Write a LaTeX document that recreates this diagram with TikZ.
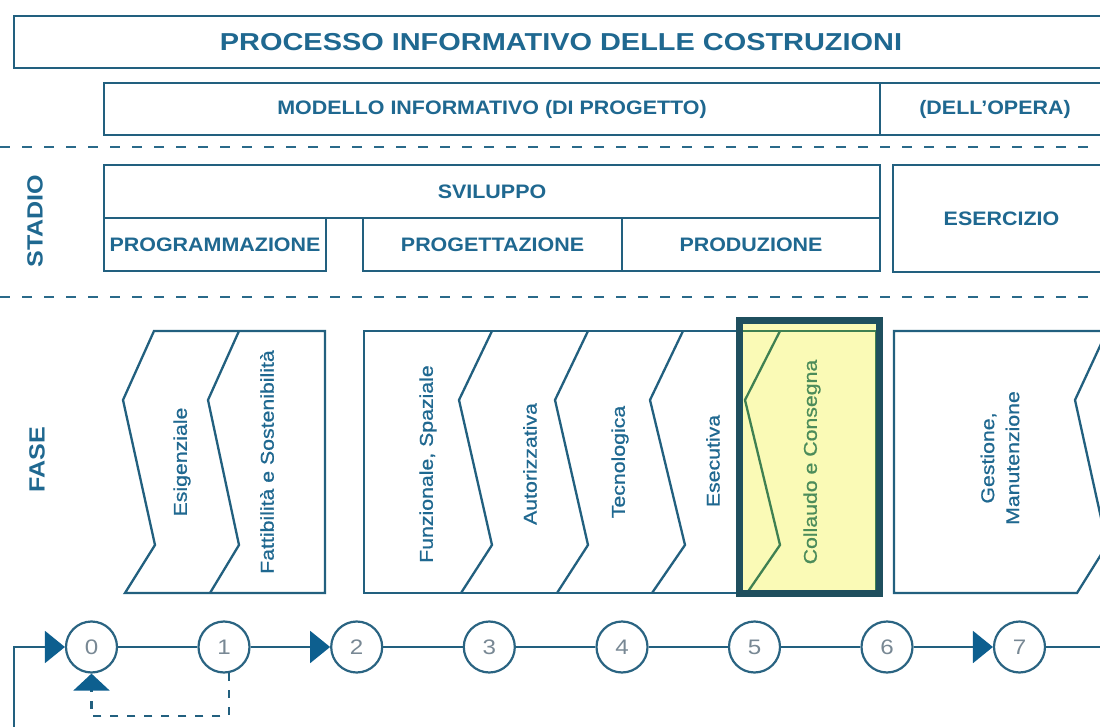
\documentclass[tikz,border=0pt]{standalone}
\usepackage{fontspec}
\setmainfont{Liberation Sans}
\newfontfamily\hdfont[FakeStretch=1.1]{Liberation Sans}
\newfontfamily\ttlfont[FakeStretch=1.18]{Liberation Sans}
\newfontfamily\sidefont[FakeStretch=1.14]{Liberation Sans}
\newfontfamily\phfont[FakeStretch=1.15,FakeBold=0.8]{Liberation Sans}
\newfontfamily\nmfont[FakeStretch=1.15]{Liberation Sans}
\usetikzlibrary{arrows.meta}
\definecolor{lineblue}{HTML}{22607F}
\definecolor{textblue}{HTML}{1F6890}
\definecolor{dashblue}{HTML}{2A6A8A}
\definecolor{arrowblue}{HTML}{0D5F8F}
\definecolor{framedark}{HTML}{1F4F5E}
\definecolor{hlyellow}{HTML}{FAFAB6}
\definecolor{hlgreen}{HTML}{3F8052}
\definecolor{hltext}{HTML}{4C8C5A}
\definecolor{numgray}{HTML}{788894}
\definecolor{circblue}{HTML}{2A6482}
\begin{document}
\begin{tikzpicture}[x=1pt,y=-1pt,
  box/.style={draw=lineblue, line width=2.3pt, inner sep=0pt, text=textblue,
    font=\hdfont\bfseries\fontsize{19.5}{22}\selectfont},
  sepline/.style={draw=dashblue, line width=2.6pt, dash pattern=on 10pt off 12pt},
  phase/.style={draw=lineblue, line width=2.3pt, line join=miter},
  phlabel/.style={rotate=90, inner sep=0pt, text=textblue, align=center,
    font=\phfont\fontsize{18.5}{25}\selectfont},
  side/.style={rotate=90, inner sep=0pt, text=textblue,
    font=\sidefont\bfseries\fontsize{22}{24}\selectfont},
  num/.style={circle, draw=circblue, line width=2.2pt, minimum size=51pt, inner sep=0pt,
    fill=white, text=numgray, font=\nmfont\fontsize{21}{24}\selectfont},
  flow/.style={draw=lineblue, line width=2pt},
  tri/.style={-{Triangle[length=20pt,width=32pt,color=arrowblue]}},
  tridown/.style={-{Triangle[length=17pt,width=36pt,color=arrowblue]}}
]
\useasboundingbox (0,0) rectangle (1100,727);
\fill[white] (0,0) rectangle (1100,727);

% header rows
\node[box, minimum width=1094pt, minimum height=52pt,
  font=\ttlfont\bfseries\fontsize{24.5}{28}\selectfont] (title) at (561,42)
  {PROCESSO INFORMATIVO DELLE COSTRUZIONI};
\node[box, minimum width=776pt, minimum height=52pt] (modello) at (492,109)
  {MODELLO INFORMATIVO (DI PROGETTO)};
\node[box, minimum width=230pt, minimum height=52pt] (opera) at (995,109)
  {(DELL’OPERA)};

% separators
\draw[sepline] (0,147) -- (1100,147);
\draw[sepline] (0,297) -- (1100,297);

% stadio
\node[side] (stadio) at (35,221) {STADIO};
\node[box, minimum width=776pt, minimum height=53pt] (sviluppo) at (492,191.5) {SVILUPPO};
\node[box, minimum width=222pt, minimum height=53pt] (programm) at (215,244.5) {PROGRAMMAZIONE};
\node[box, minimum width=259pt, minimum height=53pt] (progett) at (492.5,244.5) {PROGETTAZIONE};
\node[box, minimum width=258pt, minimum height=53pt] (produz) at (751,244.5) {PRODUZIONE};
\node[box, minimum width=217pt, minimum height=107pt] (esercizio) at (1001.5,218.5) {ESERCIZIO};

% fase
\node[side] (fase) at (37,460) {FASE};

% box A
\draw[phase] (154,331) -- (325,331) -- (325,593) -- (125,593) -- (155,545) -- (123,400) -- cycle;
\draw[phase] (239,331) -- (208,400) -- (239,545) -- (210,593);
% box B
\draw[phase] (364,331) rectangle (876,593);
\draw[phase] (492,331) -- (459,400) -- (492,545) -- (461,593);
\draw[phase] (588,331) -- (555,400) -- (588,545) -- (557,593);
\draw[phase] (683,331) -- (650,400) -- (685,545) -- (652,593);
% highlight
\fill[hlyellow] (739.5,320.5) rectangle (879.5,593.5);
\draw[draw=hlgreen, line width=2.2pt] (743,331) -- (876,331) -- (876,593);
\draw[draw=hlgreen, line width=2.3pt] (780,331) -- (745,400) -- (780,545) -- (747,593);
\draw[draw=framedark, line width=7pt] (739.5,320.5) rectangle (879.5,593.5);
% box C
\draw[phase] (1107,331) -- (894,331) -- (894,593) -- (1077,593) -- (1107,545) -- (1075,400) -- cycle;

% phase labels
\node[phlabel] (esig) at (182,462) {Esigenziale};
\node[phlabel] (fatt) at (267,462) {Fattibilità e Sostenibilità};
\node[phlabel] (funz) at (428,464) {Funzionale, Spaziale};
\node[phlabel] (aut) at (530,464) {Autorizzativa};
\node[phlabel] (tec) at (620,462) {Tecnologica};
\node[phlabel] (ese) at (713,461) {Esecutiva};
\node[phlabel, text=hltext] (coll) at (812,462) {Collaudo e Consegna};
\node[phlabel] (gest) at (1000,458) {Gestione,\\Manutenzione};

% milestones
\node[num] (c0) at (91.5,647) {0};
\node[num] (c1) at (224,647) {1};
\node[num] (c2) at (356.7,647) {2};
\node[num] (c3) at (489.3,647) {3};
\node[num] (c4) at (622,647) {4};
\node[num] (c5) at (754.5,647) {5};
\node[num] (c6) at (887,647) {6};
\node[num] (c7) at (1019.5,647) {7};
\coordinate (rend) at (1110,647);
\coordinate (lp) at (14,740);
\coordinate (fb) at (91.5,716);

\draw[flow] (c0) -- (c1);
\draw[flow, tri] (c1) -- (c2);
\draw[flow] (c2) -- (c3);
\draw[flow] (c3) -- (c4);
\draw[flow] (c4) -- (c5);
\draw[flow] (c5) -- (c6);
\draw[flow, tri] (c6) -- (c7);
\draw[flow] (c7) -- (rend);
\draw[flow, tri] (lp) |- (c0);
\draw[flow, line width=2.2pt, dash pattern=on 8pt off 9pt, tridown] (c1.-80) |- (fb) -- (c0.south);
\end{tikzpicture}
\end{document}
